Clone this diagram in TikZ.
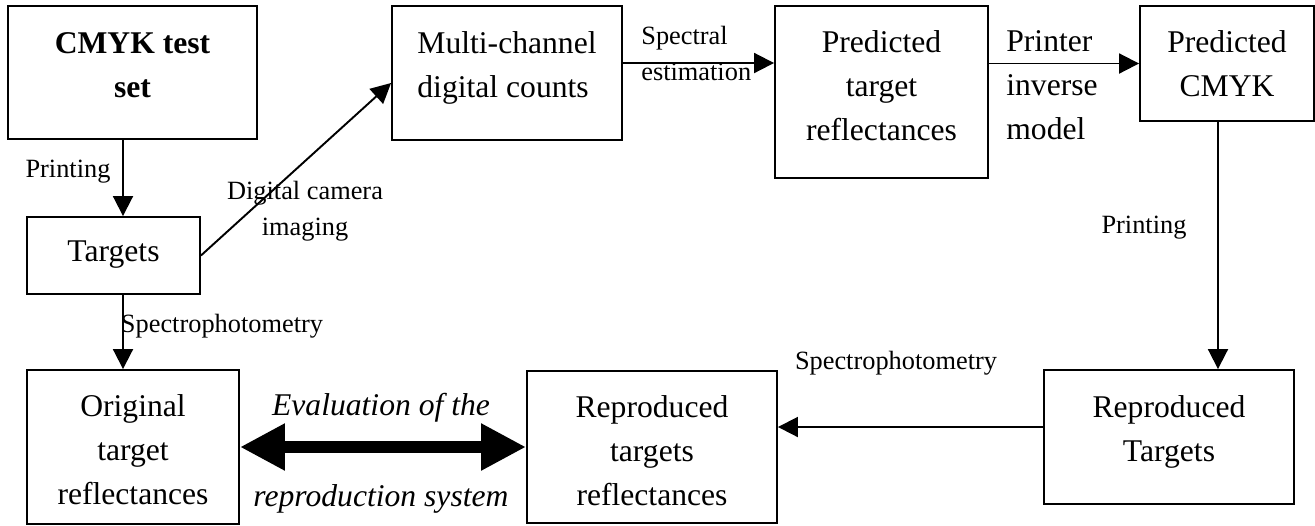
\documentclass[tikz,border=0pt]{standalone}
\usepackage{fontspec}
\setmainfont{Liberation Serif}
\usetikzlibrary{arrows.meta, positioning}
% box text, raised by #2 without changing the box
\newcommand{\liftlines}[3][c]{\raisebox{#2}[\height][\depth]{\begin{tabular}{@{}#1@{}}#3\end{tabular}}}
\tikzset{
  box/.style={draw, line width=1.1pt, inner sep=0pt, font=\fontsize{18}{25}\selectfont}, % process boxes
  lbl/.style={inner sep=0pt, align=left, font=\fontsize{15}{20.5}\selectfont}, % small edge texts
  flow/.style={-{Triangle[length=0.4cm,width=0.4cm]}, line width=1.1pt}, % thin arrows
  evalarrow/.style={{Triangle[length=0.9cm,width=0.88cm]}-{Triangle[length=0.9cm,width=0.88cm]}, line width=0.24cm},
}
\begin{document}
\begin{tikzpicture}[x=0.02cm, y=-0.02cm]
	\useasboundingbox (0,0) rectangle (1315,525);

	% boxes
	\node[box, minimum width=4.98cm, minimum height=2.66cm] (cmyk) at (132.5,72.5) {\liftlines{0.12cm}{\textbf{CMYK test}\\\textbf{set}}};
	\node[box, minimum width=3.46cm, minimum height=1.54cm] (targets) at (113.5,255.5) {\liftlines{0.05cm}{Targets}};
	\node[box, minimum width=4.6cm, minimum height=2.68cm] (counts) at (507,73) {\liftlines[l]{0.13cm}{Multi-channel\\digital counts}};
	\node[box, minimum width=4.26cm, minimum height=3.44cm] (predrefl) at (881.5,92) {\liftlines{0.08cm}{Predicted\\target\\reflectances}};
	\node[box, minimum width=3.48cm, minimum height=2.3cm] (predcmyk) at (1227,63.5) {\liftlines{-0.05cm}{Predicted\\CMYK}};
	\node[box, minimum width=5cm, minimum height=2.68cm] (reptargets) at (1169,437) {\liftlines{0.12cm}{Reproduced\\Targets}};
	\node[box, minimum width=5cm, minimum height=3.04cm] (reprefl) at (652,447) {\liftlines{-0.12cm}{Reproduced\\targets\\reflectances}};
	\node[box, minimum width=4.24cm, minimum height=3.08cm] (origrefl) at (133,447) {\liftlines{-0.1cm}{Original\\target\\reflectances}};

	% connectors
	\draw[flow] ([xshift=-0.19cm]cmyk.south) -- ([xshift=0.19cm]targets.north);
	\draw[flow] ([xshift=0.19cm]targets.south) -- ([xshift=-0.2cm]origrefl.north);
	\draw[flow] (targets.east) -- ([yshift=-0.2cm]counts.west);
	\draw[flow] ([yshift=0.2cm]counts.east) -- ([yshift=0.2cm]counts.east -| predrefl.west);
	\draw[flow] (predrefl.east |- predcmyk.west) -- (predcmyk.west);
	\draw[flow] ([xshift=-0.18cm]predcmyk.south) -- ([xshift=0.98cm]reptargets.north);
	\draw[flow] ([yshift=0.2cm]reptargets.west) -- ([yshift=0.2cm]reptargets.west -| reprefl.east);
	\draw[evalarrow] (origrefl.east) -- (reprefl.west);

	% labels
	\node[lbl] (lprint1) at (68,172) {Printing};
	\node[lbl, align=center] (lcamera) at (305,211.5) {Digital camera\\imaging};
	\node[lbl] (lspec1) at (222,326) {Spectrophotometry};
	\node[lbl, anchor=north west] (lestim) at (641,26) {Spectral\\estimation};
	\node[lbl, anchor=north west, font=\fontsize{18}{25}\selectfont] (linverse) at (1006,30) {Printer\\inverse\\model};
	\node[lbl] (lprint2) at (1144,228) {Printing};
	\node[lbl] (lspec2) at (896,363) {Spectrophotometry};
	\node[lbl, font=\fontsize{18}{25}\selectfont\itshape] (leval1) at (381,408) {Evaluation of the};
	\node[lbl, font=\fontsize{18}{25}\selectfont\itshape] (leval2) at (381,499) {reproduction system};
\end{tikzpicture}
\end{document}
